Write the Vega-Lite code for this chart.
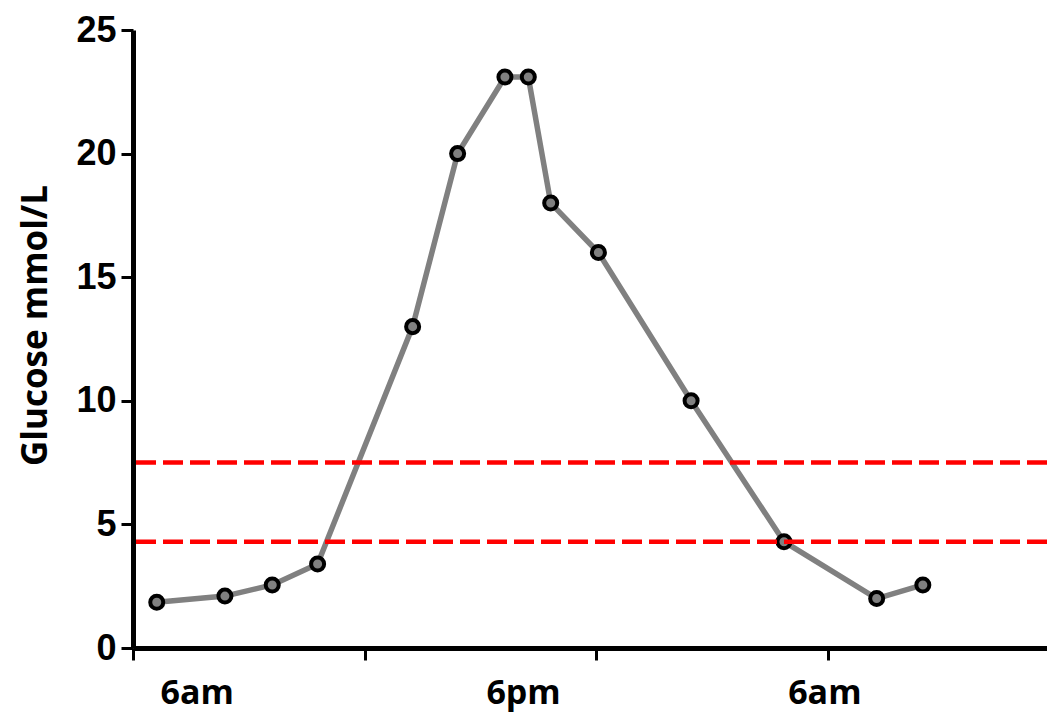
{
  "$schema": "https://vega.github.io/schema/vega-lite/v6.json",
  "width": 914,
  "height": 618,
  "autosize": {"type": "none"},
  "padding": {"left": 133, "top": 30, "right": 0, "bottom": 64},
  "background": "white",
  "config": {
    "view": {"stroke": null},
    "axis": {
      "grid": false,
      "domainColor": "black",
      "domainWidth": 5,
      "tickColor": "black",
      "tickWidth": 3,
      "tickSize": 12,
      "labelColor": "black",
      "titleColor": "black"
    }
  },
  "datasets": {
    "glucose": [
      {"hour": 1.23, "glucose": 1.85},
      {"hour": 4.76, "glucose": 2.1},
      {"hour": 7.21, "glucose": 2.55},
      {"hour": 9.56, "glucose": 3.4},
      {"hour": 14.48, "glucose": 13},
      {"hour": 16.81, "glucose": 20},
      {"hour": 19.26, "glucose": 23.1},
      {"hour": 20.47, "glucose": 23.1},
      {"hour": 21.63, "glucose": 18},
      {"hour": 24.1, "glucose": 16},
      {"hour": 28.9, "glucose": 10},
      {"hour": 33.71, "glucose": 4.3},
      {"hour": 38.51, "glucose": 2.0},
      {"hour": 40.9, "glucose": 2.55}
    ],
    "ref": [{"level": 4.3}, {"level": 7.5}]
  },
  "layer": [
    {
      "data": {"name": "glucose"},
      "mark": {"type": "line", "color": "#808080", "strokeWidth": 5.5},
      "encoding": {
        "x": {
          "field": "hour", "type": "quantitative",
          "scale": {"domain": [0, 47.33], "nice": false, "zero": false},
          "axis": {
            "title": null,
            "values": [0, 3.3, 12, 20.2, 24, 35.8, 36],
            "labelExpr": "datum.value == 3.3 || datum.value == 35.8 ? '6am' : (datum.value == 20.2 ? '6pm' : '')",
            "tickOpacity": {"condition": {"test": "datum.value == 0 || datum.value == 12 || datum.value == 24 || datum.value == 36", "value": 1}, "value": 0},
            "labelFont": "Open Sans",
            "labelFontSize": 34,
            "labelFontWeight": "bold",
            "labelPadding": 16,
            "labelOverlap": false,
            "labelFlush": false,
            "labelBound": false
          }
        },
        "y": {
          "field": "glucose", "type": "quantitative",
          "scale": {"domain": [0, 25], "nice": false},
          "axis": {
            "title": "Glucose mmol/L",
            "values": [0, 5, 10, 15, 20, 25],
            "labelFont": "Liberation Sans",
            "labelFontSize": 36,
            "labelFontWeight": "bold",
            "labelPadding": 5,
            "labelOverlap": false,
            "titleFont": "Open Sans",
            "titleFontSize": 35,
            "titleFontWeight": "bold",
            "titleAngle": -90,
            "titleAlign": "center",
            "titleBaseline": "middle",
            "titleX": -98,
            "titleY": 295
          }
        }
      }
    },
    {
      "data": {"name": "glucose"},
      "mark": {"type": "point", "shape": "circle", "filled": true, "fill": "#808080", "stroke": "black", "strokeWidth": 4, "size": 170, "opacity": 1},
      "encoding": {
        "x": {"field": "hour", "type": "quantitative"},
        "y": {"field": "glucose", "type": "quantitative"}
      }
    },
    {
      "data": {"name": "ref"},
      "mark": {"type": "rule", "color": "#ff0000", "strokeWidth": 4.5, "strokeDash": [20, 7]},
      "encoding": {
        "y": {"field": "level", "type": "quantitative"}
      }
    }
  ]
}
